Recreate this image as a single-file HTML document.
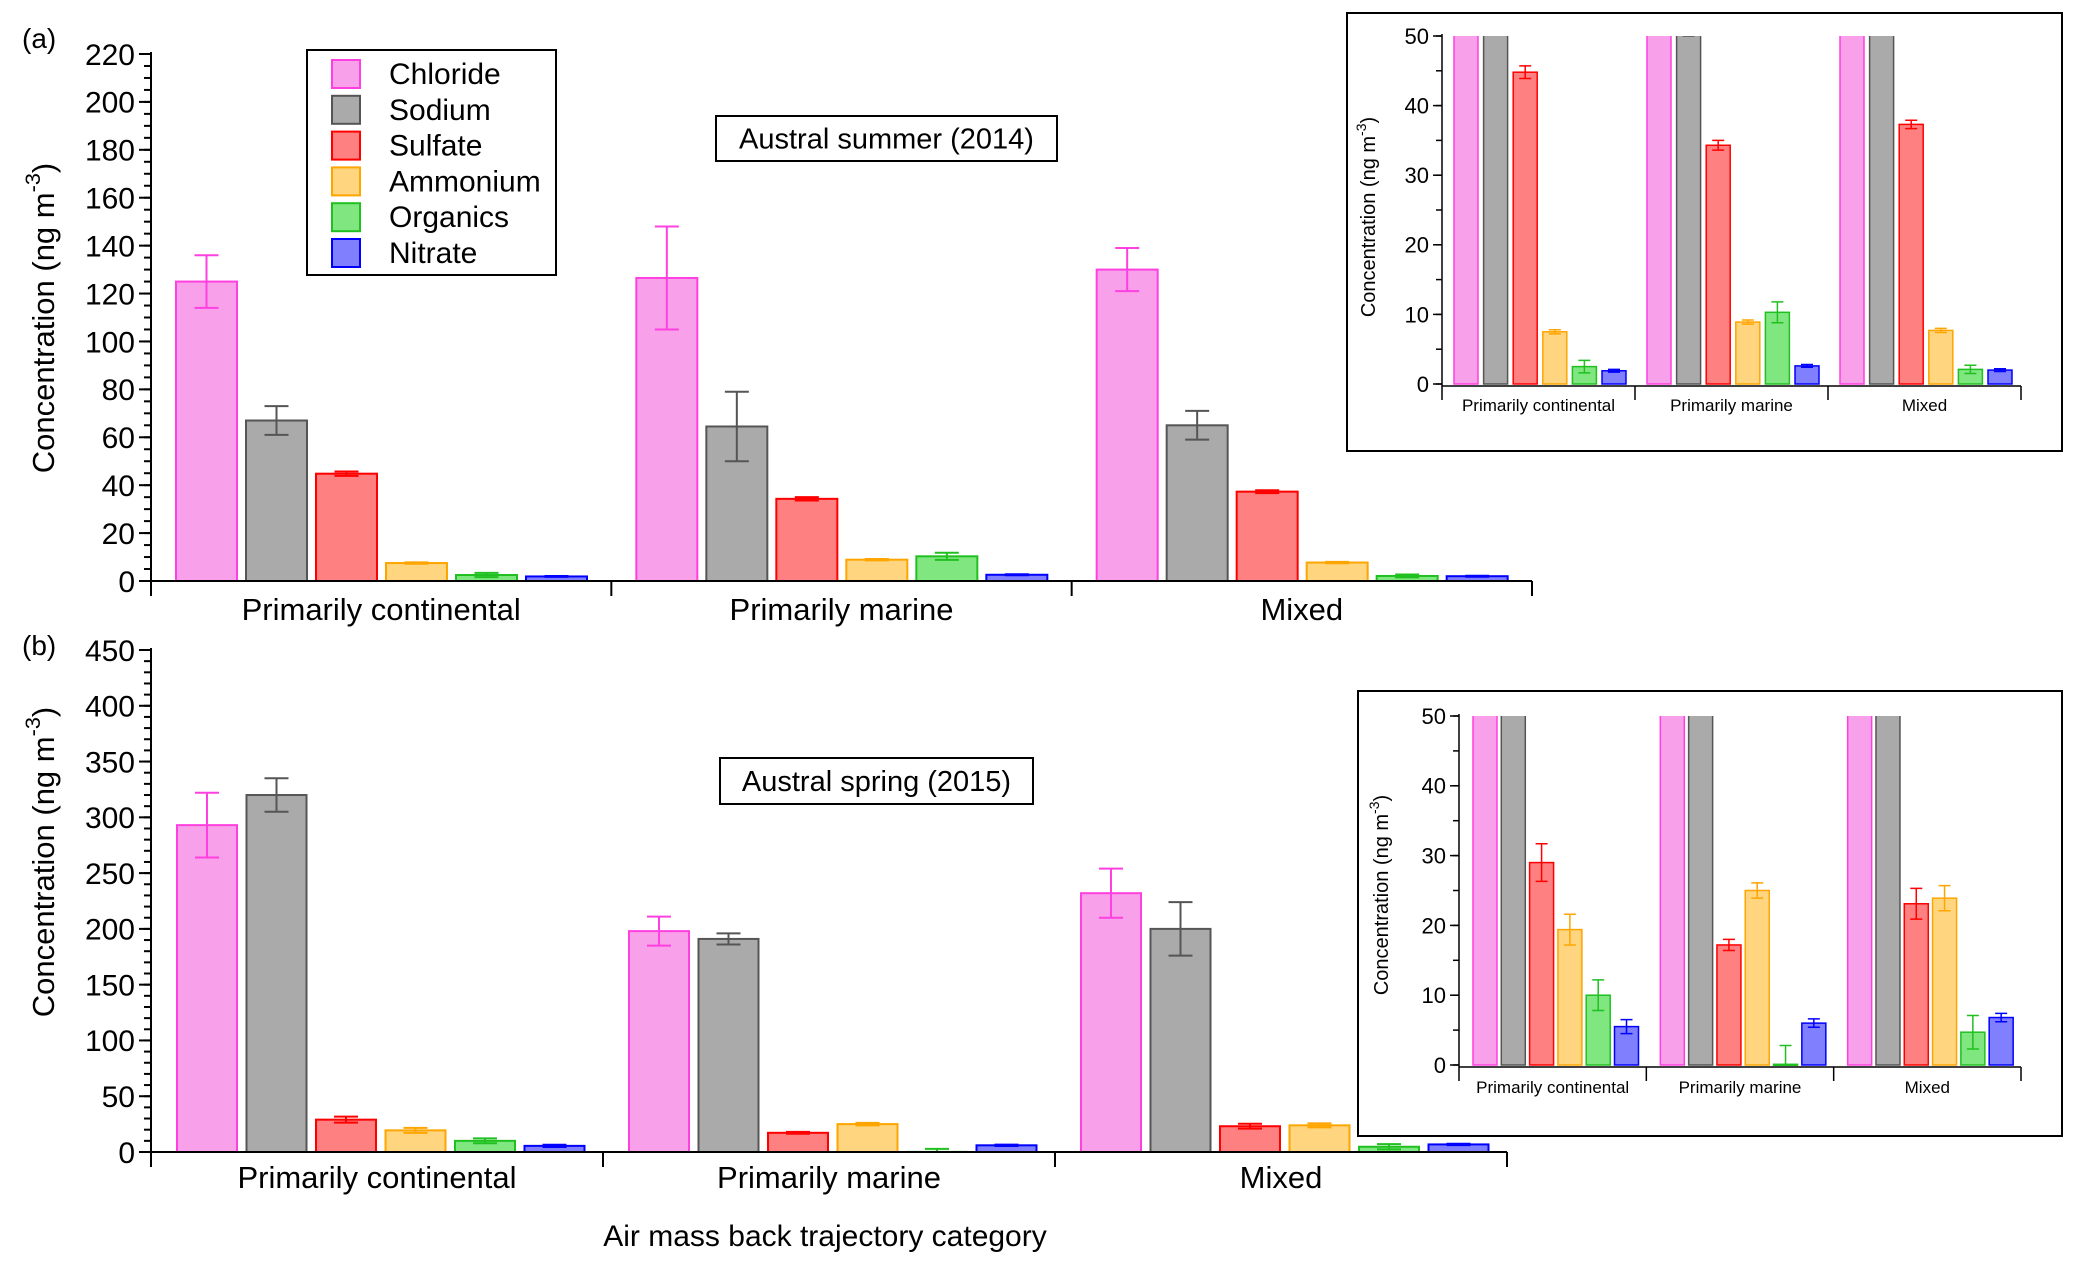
<!DOCTYPE html>
<html><head><meta charset="utf-8"><style>
html,body{margin:0;padding:0;background:#fff;}
svg{display:block;font-family:"Liberation Sans",Arial,sans-serif;}
</style></head><body>
<svg id="fig" width="2076" height="1265" viewBox="0 0 2076 1265" xmlns="http://www.w3.org/2000/svg"></svg>
<script>
// ---- data ----
const categories = ["Primarily continental","Primarily marine","Mixed"];
const species = ["Chloride","Sodium","Sulfate","Ammonium","Organics","Nitrate"];
const summerChloride = [125, 126.5, 130];
const summerSodium = [67, 64.5, 65];
const summerSulfate = [44.8, 34.3, 37.3];
const summerAmmonium = [7.5, 8.9, 7.7];
const summerOrganics = [2.5, 10.3, 2.1];
const summerNitrate = [1.9, 2.6, 2.0];
const summerChlorideErr = [11, 21.5, 9];
const summerSodiumErr = [6, 14.5, 6];
const summerSulfateErr = [0.9, 0.7, 0.6];
const summerAmmoniumErr = [0.3, 0.3, 0.3];
const summerOrganicsErr = [0.9, 1.5, 0.6];
const summerNitrateErr = [0.2, 0.2, 0.2];
const springChloride = [293, 198, 232];
const springSodium = [320, 191, 200];
const springSulfate = [29, 17.2, 23.1];
const springAmmonium = [19.4, 25, 23.9];
const springOrganics = [10, 0.1, 4.7];
const springNitrate = [5.5, 6, 6.8];
const springChlorideErr = [29, 13, 22];
const springSodiumErr = [15, 5, 24];
const springSulfateErr = [2.7, 0.8, 2.2];
const springAmmoniumErr = [2.2, 1.1, 1.8];
const springOrganicsErr = [2.2, 2.7, 2.4];
const springNitrateErr = [1, 0.6, 0.6];
const ticksA = [0,20,40,60,80,100,120,140,160,180,200,220];
const ticksB = [0,50,100,150,200,250,300,350,400,450];
const ticksInset = [0,10,20,30,40,50];

const summerVals = [summerChloride,summerSodium,summerSulfate,summerAmmonium,summerOrganics,summerNitrate];
const summerErrs = [summerChlorideErr,summerSodiumErr,summerSulfateErr,summerAmmoniumErr,summerOrganicsErr,summerNitrateErr];
const springVals = [springChloride,springSodium,springSulfate,springAmmonium,springOrganics,springNitrate];
const springErrs = [springChlorideErr,springSodiumErr,springSulfateErr,springAmmoniumErr,springOrganicsErr,springNitrateErr];

const fills = ["#f9a0ea","#aaaaaa","#ff8080","#ffd580","#80e680","#8080ff"];
const strokes = ["#ff40e0","#555555","#ff0000","#ffa500","#20c020","#0000ff"];
const errCols = ["#ff40e0","#555555","#ff0000","#ffa500","#20c020","#0000ff"];

const NS="http://www.w3.org/2000/svg";
const svg=document.getElementById('fig');
function mk(tag,attrs,parent,text){const e=document.createElementNS(NS,tag);for(const k in attrs)e.setAttribute(k,attrs[k]);if(text!==undefined)e.textContent=text;(parent||svg).appendChild(e);return e;}

function panel(o){
  const g=mk('g',{});
  
  
  const y=v=>o.y0-(v-0)*(o.y0-o.yTop)/(o.max);
  const gw=(o.xEnd-o.x0)/3;
  const cid=o.name+'-clip';
  const defs=mk('defs',{},g);
  const cp=mk('clipPath',{id:cid},defs);
  mk('rect',{x:o.x0,y:o.yTop,width:o.xEnd-o.x0,height:o.y0-o.yTop+1},cp);
  const bars=mk('g',{'clip-path':'url(#'+cid+')'},g);
  for(let c=0;c<3;c++){
    for(let s=0;s<6;s++){
      const v=o.vals[s][c], e=o.errs[s][c];
      const bx=o.x0+c*gw+o.off+s*o.step;
      const by=y(Math.max(v,0));
      const r=mk('rect',{x:bx,y:by,width:o.bw,height:Math.max(o.y0-by,1),fill:fills[s],stroke:strokes[s],'stroke-width':o.sw},bars);
      
      
      const cx=bx+o.bw/2, hi=y(v+e), lo=y(v-e), cw=o.cap;
      const eb=mk('path',{d:`M${cx} ${hi}V${lo}M${cx-cw} ${hi}H${cx+cw}M${cx-cw} ${lo}H${cx+cw}`,stroke:errCols[s],'stroke-width':o.sw,fill:'none'},bars);
      
      
    }
  }
  mk('line',{x1:o.x0,y1:o.yTop-2,x2:o.x0,y2:o.y0+o.axGap,stroke:'#000','stroke-width':o.aw},g);
  const xa=mk('line',{x1:o.x0,y1:o.y0+o.axGap,x2:o.xEnd,y2:o.y0+o.axGap,stroke:'#000','stroke-width':o.aw},g);
  
  for(let i=0;i<=3;i++){const xx=o.x0+i*gw;mk('line',{x1:xx,y1:o.y0+o.axGap,x2:xx,y2:o.y0+o.axGap+o.divLen,stroke:'#000','stroke-width':o.aw},g);}
  for(let v=0;v<=o.max+1e-9;v+=o.minor){mk('line',{x1:o.x0-o.minLen,y1:y(v),x2:o.x0,y2:y(v),stroke:'#000','stroke-width':o.aw},g);}
  o.ticks.forEach(t=>{
    mk('line',{x1:o.x0-o.majLen,y1:y(t),x2:o.x0,y2:y(t),stroke:'#000','stroke-width':o.aw},g);
    const tl=mk('text',{x:o.x0-o.majLen-4,y:y(t)+o.tfs*0.36,'font-size':o.tfs,'text-anchor':'end'},g,String(t));
    
  });
  categories.forEach((c,i)=>{
    const t=mk('text',{x:o.x0+(i+0.5)*gw,y:o.catY,'font-size':o.cfs,'text-anchor':'middle'},g,c);
    
  });
  const yl=mk('text',{transform:`translate(${o.ylX},${o.ylY}) rotate(-90)`,'font-size':o.yfs,'text-anchor':'middle'},g);
  
  mk('tspan',{},yl,'Concentration (ng m');
  mk('tspan',{dy:-o.yfs*0.45,'font-size':o.yfs*0.7},yl,'-3');
  mk('tspan',{dy:o.yfs*0.45},yl,')');
}

const fa=mk('rect',{x:1347,y:13,width:715,height:438,fill:'#fff',stroke:'#000','stroke-width':2});

const fb=mk('rect',{x:1358,y:691,width:704,height:445,fill:'#fff',stroke:'#000','stroke-width':2});


panel({name:'panel-a',vals:summerVals,errs:summerErrs,x0:151,xEnd:1532,y0:581,yTop:54,max:220,ticks:ticksA,minor:5,
  off:25,step:70,bw:61,sw:2,cap:12,aw:2,axGap:0,divLen:15,minLen:7,majLen:12,tfs:30,catY:620,cfs:31,ylX:54,ylY:318,yfs:31});
panel({name:'panel-b',vals:springVals,errs:springErrs,x0:151,xEnd:1507,y0:1152,yTop:650,max:450,ticks:ticksB,minor:10,
  off:26,step:69.5,bw:60,sw:2,cap:12,aw:2,axGap:0,divLen:15,minLen:7,majLen:12,tfs:30,catY:1188,cfs:31,ylX:54,ylY:862,yfs:31});
panel({name:'inset-a',vals:summerVals,errs:summerErrs,x0:1442,xEnd:2021,y0:384,yTop:36,max:50,ticks:ticksInset,minor:5,
  off:12,step:29.6,bw:24,sw:1.5,cap:6,aw:1.5,axGap:2,divLen:14,minLen:6,majLen:9,tfs:22,catY:411,cfs:17,ylX:1375,ylY:217,yfs:20});
panel({name:'inset-b',vals:springVals,errs:springErrs,x0:1459,xEnd:2021,y0:1065,yTop:716,max:50,ticks:ticksInset,minor:5,
  off:14,step:28.3,bw:24,sw:1.5,cap:6,aw:1.5,axGap:2,divLen:14,minLen:6,majLen:9,tfs:22,catY:1093,cfs:17,ylX:1388,ylY:895,yfs:20});

const lg=mk('g',{});

mk('rect',{x:307,y:50,width:249,height:225,fill:'#fff',stroke:'#000','stroke-width':2},lg);
species.forEach((s,i)=>{
  const cy=74+i*35.8;
  const e=mk('g',{},lg);
  
  mk('rect',{x:332,y:cy-14,width:28,height:28,fill:fills[i],stroke:strokes[i],'stroke-width':2},e);
  mk('text',{x:389,y:cy+10,'font-size':30},e,s);
});

function box(x,y,w,h,txt,name){const g=mk('g',{});
  mk('rect',{x:x,y:y,width:w,height:h,fill:'#fff',stroke:'#000','stroke-width':2},g);
  mk('text',{x:x+w/2,y:y+h/2+10,'font-size':29,'text-anchor':'middle'},g,txt);}
box(716,116,341,45,'Austral summer (2014)','title-box-a');
box(720,758,313,46,'Austral spring (2015)','title-box-b');
const la=mk('text',{x:22,y:48,'font-size':28},svg,'(a)');
const lb=mk('text',{x:22,y:655,'font-size':28},svg,'(b)');
const xt=mk('text',{x:825,y:1246,'font-size':30,'text-anchor':'middle'},svg,'Air mass back trajectory category');

</script>
</body></html>
